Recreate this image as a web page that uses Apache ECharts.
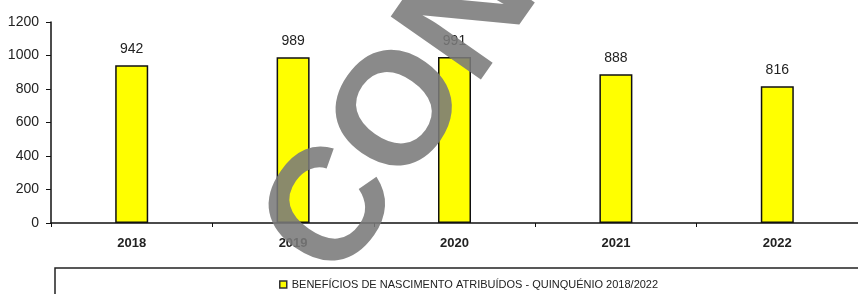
<!DOCTYPE html>
<html>
<head>
<meta charset="utf-8">
<script src="https://cdn.jsdelivr.net/npm/echarts@6/dist/echarts.min.js"></script>
<style>
  html, body { margin: 0; padding: 0; background: #fff; }
  #chart { width: 858px; height: 294px; }
</style>
</head>
<body>
<div id="chart"></div>
<script>
// dados
const years = ['2018', '2019', '2020', '2021', '2022'];
const births = [942, 989, 991, 888, 816];
const yTicks = [0, 200, 400, 600, 800, 1000, 1200];
const seriesName = 'BENEFÍCIOS DE NASCIMENTO ATRIBUÍDOS - QUINQUÉNIO 2018/2022';

let chart = echarts.init(document.getElementById('chart'));

let option = {
    animation: false,
    backgroundColor: '#fff',
    grid: {
        left: 51,
        right: -8,
        top: 22,
        bottom: 71
    },
    legend: {
        data: [seriesName],
        left: 274,
        top: 274,
        icon: 'rect',
        itemWidth: 7,
        itemHeight: 7,
        itemGap: 4,
        itemStyle: { borderColor: '#333', borderWidth: 1.5 },
        textStyle: {
            fontFamily: 'Liberation Sans',
            fontSize: 11,
            color: '#222'
        }
    },
    xAxis: {
        type: 'category',
        data: years,
        axisLine: { lineStyle: { color: '#111', width: 1.5 } },
        axisTick: { show: true, length: 4, lineStyle: { color: '#111' } },
        axisLabel: {
            margin: 14,
            fontFamily: 'Liberation Sans',
            fontWeight: 'bold',
            fontSize: 13,
            color: '#222'
        }
    },
    yAxis: {
        type: 'value',
        min: yTicks[0],
        max: yTicks[yTicks.length - 1],
        interval: 200,
        splitLine: { show: false },
        axisLine: { show: true, lineStyle: { color: '#111', width: 1.5 } },
        axisTick: { show: true, length: 5, lineStyle: { color: '#111' } },
        axisLabel: {
            margin: 12,
            fontFamily: 'Liberation Sans',
            fontSize: 14,
            color: '#222',
            formatter: function (value) {
                return value + '';
            }
        }
    },
    series: [{
        name: seriesName,
        type: 'bar',
        data: births,
        barWidth: 33,
        itemStyle: {
            color: '#ffff00',
            borderColor: '#111',
            borderWidth: 1.5
        },
        label: {
            show: true,
            position: 'top',
            distance: 9,
            fontFamily: 'Liberation Sans',
            fontSize: 14,
            color: '#222'
        }
    }],
    graphic: [
        {
            // caixa da legenda
            type: 'rect',
            z: 1,
            shape: { x: 55, y: 268, width: 900, height: 100 },
            style: { fill: 'none', stroke: '#222', lineWidth: 1.5 }
        },
        {
            // marca de água
            type: 'text',
            z: 100,
            x: 403,
            y: 114,
            rotation: 55 * Math.PI / 180,
            style: {
                text: 'CON',
                fontFamily: 'Liberation Sans',
                fontWeight: 'bold',
                fontSize: 160,
                fill: '#7a7a7a',
                opacity: 0.88,
                align: 'center',
                verticalAlign: 'middle'
            }
        }
    ]
};
chart.setOption(option);
</script>
</body>
</html>
